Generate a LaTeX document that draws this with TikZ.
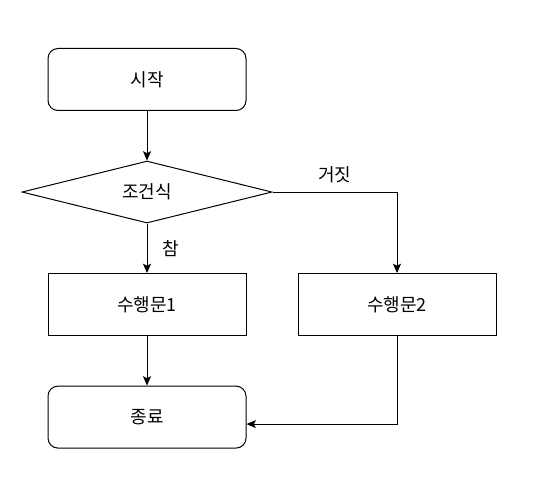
\documentclass[tikz,border=0pt]{standalone}
\usepackage{fontspec}
\setmainfont{Noto Sans CJK KR}
\usetikzlibrary{shapes.geometric,arrows.meta}

\begin{document}
\begin{tikzpicture}[x=0.75pt,y=0.75pt,
     terminal/.style = {draw, rectangle, rounded corners=7.5pt, minimum width=148.5pt,
      minimum height=46.5pt, node distance=84.4pt},
     block/.style = {draw, rectangle, minimum width=148.5pt, minimum height=46.5pt,
      node distance=84.4pt},
     decision/.style = {draw, diamond, aspect=4, inner sep=0pt, minimum width=187.5pt,
      minimum height=46.5pt, node distance=84.4pt},
     arrow/.style = {draw, -{Stealth[length=7pt, width=6pt, inset=1.5pt]}},
     every node/.style = {font=\fontsize{13.5}{16}\selectfont},
     every path/.style = {line width=0.75pt}
    ]
    \useasboundingbox (0,0) rectangle (546,497);
    \node [terminal] (start) at (147,417.5) {시작};
    \node [decision, below of=start] (cond) {조건식};
    \node [block, below of=cond] (stmt1) {수행문1};
    \node [block, right of=stmt1, node distance=187.5pt] (stmt2) {수행문2};
    \node [terminal, below of=stmt1] (stop) {종료};

    \draw[arrow] (start) -- (cond);
    \draw[arrow] (cond) -- (stmt1) node [pos=0.5, right, xshift=8pt] {참};
    \draw[arrow] (cond.east) -| (stmt2.north) node [pos=0.25, above, yshift=3pt] {거짓};
    \draw[arrow] (stmt1) -- (stop);
    \draw[arrow] (stmt2.south) |- ([yshift=-5.25pt]stop.east);
\end{tikzpicture}
\end{document}
